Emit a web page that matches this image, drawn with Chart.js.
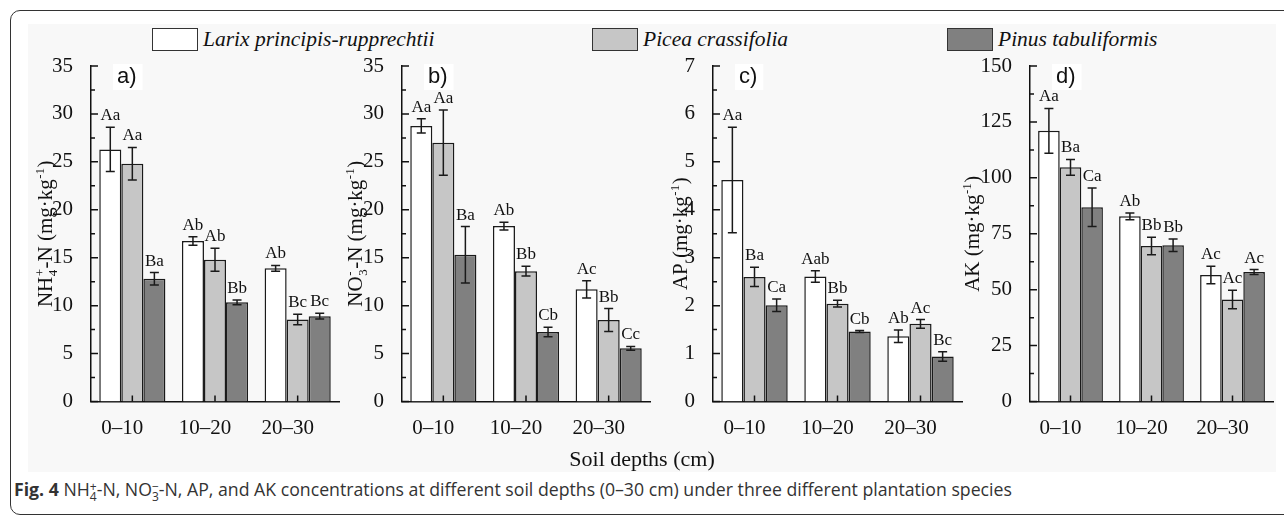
<!DOCTYPE html>
<html>
<head>
<meta charset="utf-8">
<script src="https://cdn.jsdelivr.net/npm/chart.js@4.4.1/dist/chart.umd.min.js"></script>
<style>
html, body { margin: 0; padding: 0; background: #fff; }
#page { position: relative; width: 1284px; height: 517px; overflow: hidden; }
#frame { position: absolute; left: 10px; top: 10px; width: 1300px; height: 505px; border: 1.5px solid #333; border-radius: 10px; box-sizing: border-box; }
#figbg { position: absolute; left: 28px; top: 24px; width: 1248px; height: 448px; background: #f8f8f8; }
canvas { position: absolute; top: 20px; }
.leg { position: absolute; top: 28px; height: 23px; font: italic 21.5px "Liberation Serif", serif; color: #111; white-space: nowrap; line-height: 23px; }
.leg .box { position: absolute; left: 0; top: 0; width: 46px; height: 23px; border: 1.5px solid #333; box-sizing: border-box; }
.leg .txt { position: absolute; left: 51px; top: 0; }
#xtitle { position: absolute; left: 0; width: 1284px; top: 446px; text-align: center; font: 22px "Liberation Serif", serif; color: #111; }
#caption { position: absolute; left: 14px; top: 477px; font: 17.7px "Open Sans", sans-serif; color: #333; white-space: nowrap; }
.ss { display: inline-block; vertical-align: -5px; line-height: 10px; font-size: 12px; text-align: center; }
</style>
</head>
<body>
<div id="page">
  <div id="frame"></div>
  <div id="figbg"></div>
  <div id="legend"></div>
  <canvas id="pa" width="323" height="430" style="left:20px"></canvas>
  <canvas id="pb" width="324" height="430" style="left:330px"></canvas>
  <canvas id="pc" width="323" height="430" style="left:643px"></canvas>
  <canvas id="pd" width="339" height="430" style="left:940px"></canvas>
  <div id="xtitle">Soil depths (cm)</div>
  <div id="caption"><b>Fig. 4</b> NH<span class="ss">+<br>4</span>-N, NO<span class="ss">&minus;<br>3</span>-N, AP, and AK concentrations at different soil depths (0–30 cm) under three different plantation species</div>
</div>
<script>
// data
const depths = ['0–10', '10–20', '20–30'];
const species = ['Larix principis-rupprechtii', 'Picea crassifolia', 'Pinus tabuliformis'];
const fills = ['#ffffff', '#c6c6c6', '#808080'];
const panelLabels = ['a)', 'b)', 'c)', 'd)'];

// rows = species, columns = depths
const nh4Means = [[26.3, 16.75, 13.9], [24.8, 14.8, 8.55], [12.8, 10.35, 8.9]];
const nh4Errors = [[2.3, 0.45, 0.3], [1.7, 1.2, 0.55], [0.65, 0.25, 0.3]];
const nh4Letters = [['Aa', 'Ab', 'Ab'], ['Aa', 'Ab', 'Bc'], ['Ba', 'Bb', 'Bc']];

const no3Means = [[28.75, 18.3, 11.7], [27.0, 13.6, 8.5], [15.3, 7.25, 5.55]];
const no3Errors = [[0.75, 0.4, 0.9], [3.4, 0.5, 1.2], [2.95, 0.5, 0.2]];
const no3Letters = [['Aa', 'Ab', 'Ac'], ['Aa', 'Bb', 'Bb'], ['Ba', 'Cb', 'Cc']];

const apMeans = [[4.62, 2.61, 1.36], [2.6, 2.04, 1.62], [2.01, 1.46, 0.94]];
const apErrors = [[1.1, 0.12, 0.13], [0.2, 0.07, 0.09], [0.13, 0.02, 0.1]];
const apLetters = [['Aa', 'Aab', 'Ab'], ['Ba', 'Bb', 'Ac'], ['Ca', 'Cb', 'Bc']];

const akMeans = [[121, 82.8, 56.6], [104.7, 69.5, 45.6], [86.8, 69.9, 57.9]];
const akErrors = [[10, 1.5, 3.9], [3.5, 3.9, 4.1], [8.6, 2.8, 1.1]];
const akLetters = [['Aa', 'Ab', 'Ac'], ['Ba', 'Bb', 'Ac'], ['Ca', 'Bb', 'Ac']];

// axis titles, split into plain / stacked sup-sub parts
const nh4Title = [{ t: 'NH' }, { sup: '+', sub: '4' }, { t: '-N (mg·kg' }, { sup: '-1' }, { t: ')' }];
const no3Title = [{ t: 'NO' }, { sup: '-', sub: '3' }, { t: '-N (mg·kg' }, { sup: '-1' }, { t: ')' }];
const apTitle = [{ t: 'AP (mg·kg' }, { sup: '-1' }, { t: ')' }];
const akTitle = [{ t: 'AK (mg·kg' }, { sup: '-1' }, { t: ')' }];

const yMax = [35, 35, 7, 150];
const yStep = [5, 5, 1, 25];

const serif = '"Liberation Serif", "Times New Roman", serif';

// legend
const legend = document.getElementById('legend');
const legLeft = [152, 592, 947];
species.forEach((s, k) => {
  const d = document.createElement('div');
  d.className = 'leg';
  d.style.left = legLeft[k] + 'px';
  d.innerHTML = '<div class="box" style="background:' + fills[k] + '"></div><div class="txt">' + s + '</div>';
  legend.appendChild(d);
});

////// plugins
const axisTicks = {
  id: 'axisTicks',
  afterDraw(chart) {
    const { ctx, chartArea: a, scales: { x, y } } = chart;
    const step = y.options.ticks.stepSize;
    ctx.save();
    ctx.strokeStyle = '#111';
    ctx.lineWidth = 1.5;
    ctx.beginPath();
    for (let i = 0; i <= Math.round(y.max / step * 2); i++) {
      const py = y.getPixelForValue(i * step / 2);
      ctx.moveTo(a.left, py);
      ctx.lineTo(a.left + (i % 2 === 0 ? 7 : 4), py);
    }
    x.ticks.forEach((t, i) => {
      const px = x.getPixelForTick(i);
      ctx.moveTo(px, a.bottom);
      ctx.lineTo(px, a.bottom - 6);
    });
    ctx.stroke();
    ctx.restore();
  }
};

const errorBars = {
  id: 'errorBars',
  afterDatasetsDraw(chart) {
    const { ctx, scales: { y } } = chart;
    ctx.save();
    ctx.strokeStyle = '#1a1a1a';
    ctx.lineWidth = 1.5;
    ctx.fillStyle = '#111';
    ctx.font = '17px ' + serif;
    ctx.textAlign = 'center';
    ctx.textBaseline = 'alphabetic';
    chart.data.datasets.forEach((ds, k) => {
      chart.getDatasetMeta(k).data.forEach((bar, i) => {
        const v = ds.data[i], e = ds.errors[i];
        const top = y.getPixelForValue(v + e);
        const bot = y.getPixelForValue(v - e);
        ctx.beginPath();
        ctx.moveTo(bar.x, top); ctx.lineTo(bar.x, bot);
        ctx.moveTo(bar.x - 4.5, top); ctx.lineTo(bar.x + 4.5, top);
        ctx.moveTo(bar.x - 4.5, bot); ctx.lineTo(bar.x + 4.5, bot);
        ctx.stroke();
        ctx.fillText(ds.letters[i], bar.x, top - 7);
      });
    });
    ctx.restore();
  }
};

const panelText = {
  id: 'panelText',
  afterDraw(chart, args, opts) {
    const { ctx, chartArea: a } = chart;
    ctx.save();
    // panel letter
    ctx.font = '22px "Liberation Sans", Arial, sans-serif';
    const w = ctx.measureText(opts.label).width;
    ctx.fillStyle = '#ffffff';
    ctx.fillRect(a.left + 22, a.top - 2, w + 10, 26);
    ctx.fillStyle = '#111';
    ctx.textBaseline = 'middle';
    ctx.fillText(opts.label, a.left + 26, a.top + 11);

    // rotated y title with sub/superscripts
    const big = '21px ' + serif, small = '13px ' + serif;
    const widths = opts.title.map((p) => {
      if (p.t) { ctx.font = big; return ctx.measureText(p.t).width; }
      ctx.font = small;
      return Math.max(ctx.measureText(p.sup || '').width, ctx.measureText(p.sub || '').width) + 1;
    });
    const total = widths.reduce((s, v) => s + v, 0);
    ctx.translate(opts.titleX, (a.top + a.bottom) / 2);
    ctx.rotate(-Math.PI / 2);
    ctx.textBaseline = 'alphabetic';
    ctx.textAlign = 'left';
    let cx = -total / 2;
    const base = 7;
    opts.title.forEach((p, i) => {
      if (p.t) {
        ctx.font = big;
        ctx.fillText(p.t, cx, base);
      } else {
        ctx.font = small;
        if (p.sup) ctx.fillText(p.sup, cx + 0.5, base - 8);
        if (p.sub) ctx.fillText(p.sub, cx + 0.5, base + 5);
      }
      cx += widths[i];
    });
    ctx.restore();
  }
};

////// panels
const panels = [
  { id: 'pa', means: nh4Means, errors: nh4Errors, letters: nh4Letters, title: nh4Title, axisW: 71, titleX: 25, padRight: 4 },
  { id: 'pb', means: no3Means, errors: no3Errors, letters: no3Letters, title: no3Title, axisW: 72, titleX: 25, padRight: 4 },
  { id: 'pc', means: apMeans, errors: apErrors, letters: apLetters, title: apTitle, axisW: 70, titleX: 37, padRight: 4 },
  { id: 'pd', means: akMeans, errors: akErrors, letters: akLetters, title: akTitle, axisW: 90, titleX: 32, padRight: 6 }
];

panels.forEach((p, n) => {
  new Chart(document.getElementById(p.id), {
    type: 'bar',
    data: {
      labels: depths,
      datasets: species.map((s, k) => ({
        label: s,
        data: p.means[k],
        errors: p.errors[k],
        letters: p.letters[k],
        backgroundColor: fills[k],
        borderColor: '#1a1a1a',
        borderWidth: 1.5,
        categoryPercentage: 0.8,
        barPercentage: 1
      }))
    },
    options: {
      responsive: false,
      animation: false,
      layout: { padding: { left: 0, right: p.padRight, top: 46, bottom: 0 } },
      plugins: {
        legend: { display: false },
        tooltip: { enabled: false },
        panelText: { label: panelLabels[n], title: p.title, titleX: p.titleX }
      },
      scales: {
        x: {
          grid: { display: false },
          border: { color: '#111', width: 1.5 },
          ticks: { color: '#111', font: { family: serif, size: 21 }, padding: 6, labelOffset: -10 },
          afterFit: (s) => { s.height = 48.5; }
        },
        y: {
          min: 0,
          max: yMax[n],
          grid: { display: false },
          border: { color: '#111', width: 1.5 },
          ticks: { stepSize: yStep[n], autoSkip: false, color: '#111', font: { family: serif, size: 21 }, padding: 10 },
          afterFit: (s) => { s.width = p.axisW; }
        }
      }
    },
    plugins: [axisTicks, errorBars, panelText]
  });
});
</script>
</body>
</html>
